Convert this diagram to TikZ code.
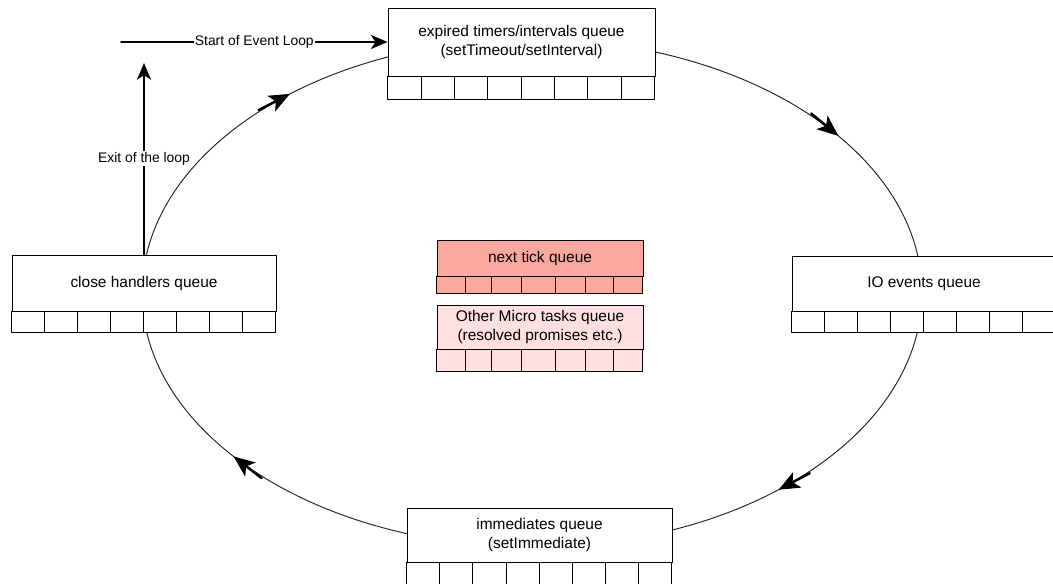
\documentclass[tikz,border=0pt]{standalone}
\usepackage{fontspec}
\setmainfont{Liberation Sans}
\usetikzlibrary{arrows.meta,decorations.markings}
\definecolor{tickred}{RGB}{250,168,158}
\definecolor{micropink}{RGB}{255,223,223}
\tikzset{
 queue/.style={draw,fill=white,inner sep=0pt,align=center,font=\fontsize{8.8}{10.8}\selectfont},
 cellrow/.style={draw,fill=white},
 lbl/.style={fill=white,inner sep=.5pt,font=\fontsize{7.9}{9}\selectfont},
 flow/.style={line width=1.1pt,-{Stealth[length=9.5pt,width=8pt,inset=2.6pt]}},
 looparc/.style={line width=.55pt,draw=black!85},
 mid arrow/.style={postaction=decorate,decoration={markings,mark=at position #1 with
  {\draw[black,line width=1.4pt] (-20pt,0)--(-5pt,0); \arrow[black]{Stealth[length=12pt,width=10pt,inset=3pt]}}}}
}
\begin{document}
\begin{tikzpicture}[x=.02cm,y=.02cm,line width=.5pt,line cap=round,line join=round]
 \useasboundingbox (0,0) rectangle (1053,-583);
 % the loop
 \coordinate (c) at (532,-293);
 \path (c) ++(90:7.8cm and 5.08cm) coordinate (etop);
 \path (c) ++(0:7.8cm and 5.08cm) coordinate (eright);
 \path (c) ++(-90:7.8cm and 5.08cm) coordinate (ebot);
 \path (c) ++(180:7.8cm and 5.08cm) coordinate (eleft);
 \draw[looparc,mid arrow=.64] (etop) arc[start angle=90,end angle=0,x radius=7.8cm,y radius=5.08cm];
 \draw[looparc,mid arrow=.50] (eright) arc[start angle=0,end angle=-90,x radius=7.8cm,y radius=5.08cm];
 \draw[looparc,mid arrow=.62] (ebot) arc[start angle=-90,end angle=-180,x radius=7.8cm,y radius=5.08cm];
 \draw[looparc,mid arrow=.51] (eleft) arc[start angle=180,end angle=90,x radius=7.8cm,y radius=5.08cm];

 % phases
 \node[queue,minimum width=5.34cm,minimum height=1.36cm] (qtimer) at (521.5,-42) {expired timers/intervals queue\\(setTimeout/setInterval)};
 \draw[cellrow] (qtimer.south west) rectangle ++(267,-23);
 \foreach \i in {1,...,7} \draw (qtimer.south west) ++(\i*33.375,0) -- ++(0,-23);

 \node[queue,minimum width=5.28cm,minimum height=1.1cm] (qio) at (924,-283.5) {IO events queue};
 \draw[cellrow] (qio.south west) rectangle ++(264,-21);
 \foreach \i in {1,...,7} \draw (qio.south west) ++(\i*33,0) -- ++(0,-21);

 \node[queue,minimum width=5.3cm,minimum height=1.08cm] (qimm) at (539.5,-535) {immediates queue\\(setImmediate)};
 \draw[cellrow] (qimm.south west) rectangle ++(265,-22);
 \foreach \i in {1,...,7} \draw (qimm.south west) ++(\i*33.125,0) -- ++(0,-22);

 \node[queue,minimum width=5.28cm,minimum height=1.12cm] (qclose) at (144,-283) {close handlers queue};
 \draw[cellrow] (qclose.south west) rectangle ++(264,-21);
 \foreach \i in {1,...,7} \draw (qclose.south west) ++(\i*33,0) -- ++(0,-21);

 % micro tasks
 \node[queue,fill=tickred,minimum width=4.12cm,minimum height=.72cm] (qtick) at (540,-258) {next tick queue};
 \draw[cellrow,fill=tickred] (qtick.south west) rectangle ++(206,-17);
 \foreach \d in {29,55,85,119,149,177} \draw (qtick.south west) ++(\d,0) -- ++(0,-17);

 \node[queue,fill=micropink,minimum width=4.12cm,minimum height=.88cm] (qmicro) at (540,-327) {Other Micro tasks queue\\(resolved promises etc.)};
 \draw[cellrow,fill=micropink] (qmicro.south west) rectangle ++(206,-22);
 \foreach \d in {29,55,85,119,149,177} \draw (qmicro.south west) ++(\d,0) -- ++(0,-22);

 % entry and exit
 \coordinate (start) at (121,-42);
 \coordinate (exit) at (144,-63);
 \draw[flow] (start) -- node[lbl] {Start of Event Loop} (qtimer.west);
 \draw[flow] (qclose.north) -- node[lbl] {Exit of the loop} (exit);
\end{tikzpicture}
\end{document}
